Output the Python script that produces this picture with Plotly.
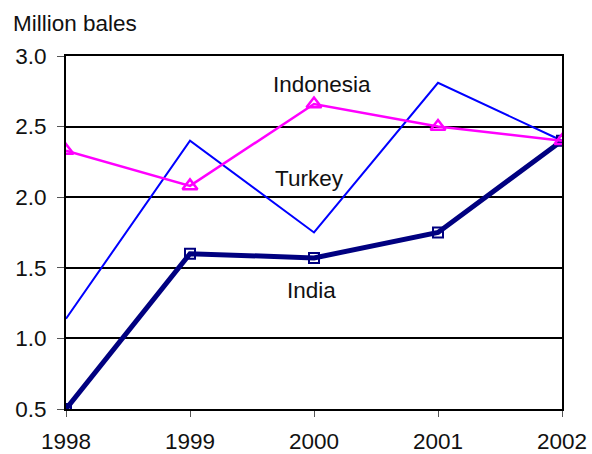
import plotly.graph_objects as go

years = [1998, 1999, 2000, 2001, 2002]
india = [0.5, 1.6, 1.57, 1.75, 2.4]
indonesia = [2.33, 2.08, 2.66, 2.5, 2.4]
turkey = [1.14, 2.4, 1.75, 2.81, 2.4]
y_ticks = [0.5, 1.0, 1.5, 2.0, 2.5, 3.0]

fig = go.Figure()
fig.add_trace(go.Scatter(x=years, y=turkey, mode="lines", line=dict(color="#0000FF", width=2), name="Turkey"))
fig.add_trace(go.Scatter(x=years, y=india, mode="lines+markers", line=dict(color="#000080", width=5),
                         marker=dict(symbol="square-open", size=10, color="#000080", line=dict(width=2)), name="India"))
fig.add_trace(go.Scatter(x=years, y=indonesia, mode="lines+markers", line=dict(color="#FF00FF", width=2.5),
                         marker=dict(symbol="triangle-up-open", size=13, color="#FF00FF", line=dict(width=2.5)), name="Indonesia"))

font = dict(family="Liberation Sans, Arial, sans-serif", size=22.5, color="#111111")
fig.update_layout(
    width=592, height=454, margin=dict(l=66, r=30, t=56, b=45),
    paper_bgcolor="white", plot_bgcolor="white", showlegend=False, font=font,
    xaxis=dict(range=[1998, 2002], tickvals=years, ticktext=[str(y) for y in years], automargin=False,
               showgrid=False, zeroline=False, showline=True, linecolor="black", linewidth=2,
               mirror=True, ticks="outside", ticklen=6, tickcolor="#555555", tickwidth=1, tickfont=font,
               ticklabelstandoff=5),
    yaxis=dict(range=[0.5, 3.0], tickvals=y_ticks, ticktext=[f"{v:.1f}" for v in y_ticks], automargin=False,
               showgrid=True, gridcolor="black", gridwidth=2, zeroline=False, showline=True,
               linecolor="black", linewidth=2, mirror=True, ticks="outside", ticklen=7,
               tickcolor="#555555", tickwidth=1, tickfont=font, ticklabelstandoff=6),
    annotations=[
        dict(x=-55 / 496, y=1 + 33 / 353, xref="paper", yref="paper", xanchor="left", yanchor="middle",
             text="Million bales", showarrow=False, font=font),
        dict(x=2000.065, y=2.80, text="Indonesia", showarrow=False, font=font),
        dict(x=1999.96, y=2.13, text="Turkey", showarrow=False, font=font),
        dict(x=1999.98, y=1.34, text="India", showarrow=False, font=font),
    ],
)
fig.write_html("out.html")
